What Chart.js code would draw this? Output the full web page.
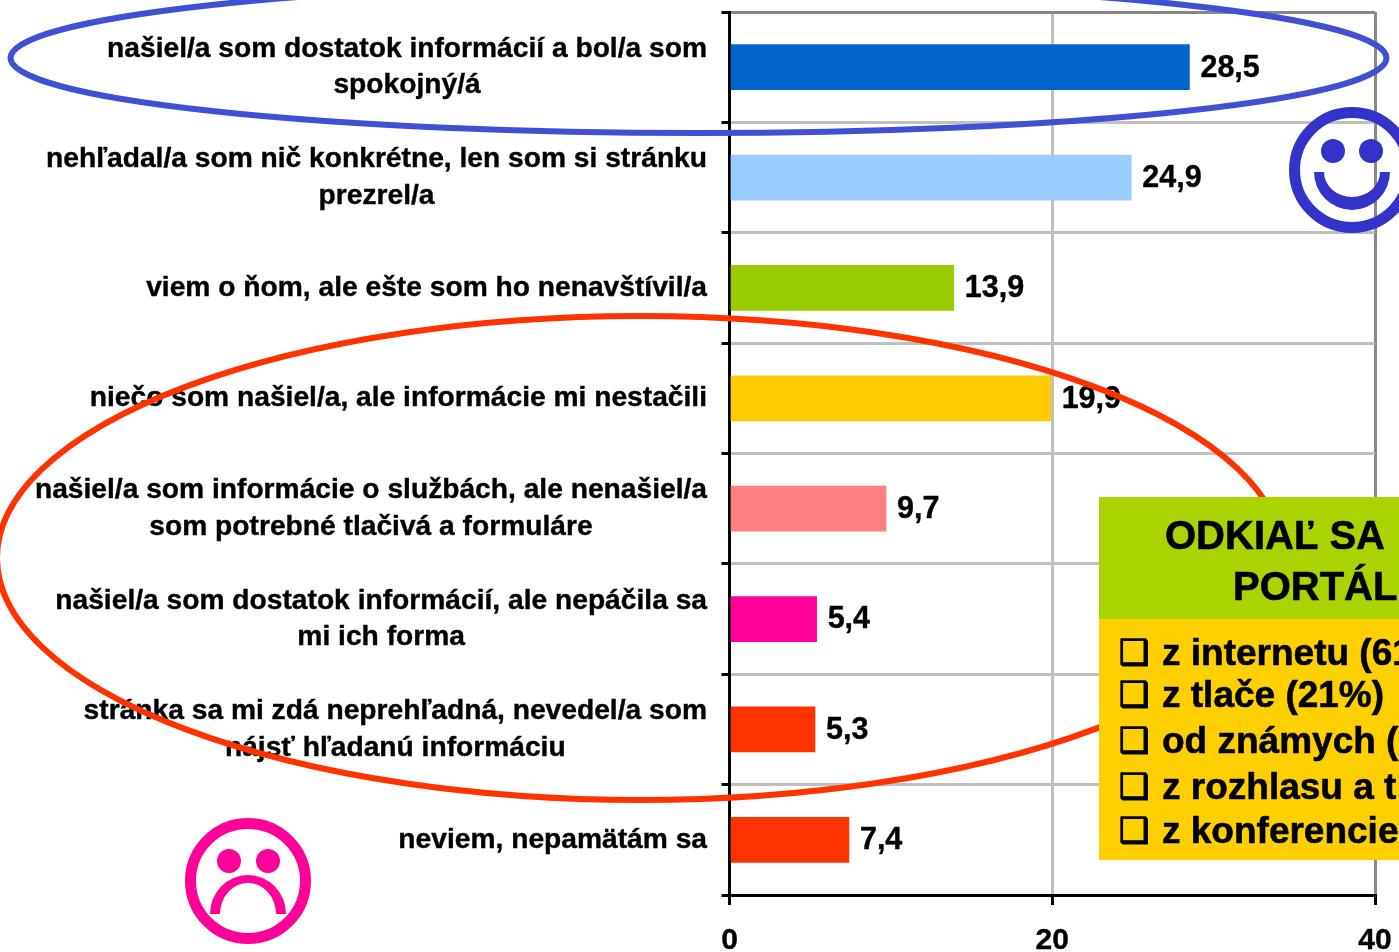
<!DOCTYPE html>
<html lang="sk">
<head>
<meta charset="utf-8">
<title>Portál</title>
<style>html,body{margin:0;padding:0;background:#fff;overflow:hidden}canvas{display:block}</style>
<script src="https://cdn.jsdelivr.net/npm/chart.js@4/dist/chart.umd.js"></script>
</head>
<body>
<canvas id="c" width="1399" height="952"></canvas>
<script>
const categories = [
  ["našiel/a som dostatok informácií a bol/a som", "spokojný/á"],
  ["nehľadal/a som nič konkrétne, len som si stránku", "prezrel/a"],
  "viem o ňom, ale ešte som ho nenavštívil/a",
  "niečo som našiel/a, ale informácie mi nestačili",
  ["našiel/a som informácie o službách, ale nenašiel/a", "som potrebné tlačivá a formuláre"],
  ["našiel/a som dostatok informácií, ale nepáčila sa", "mi ich forma"],
  ["stránka sa mi zdá neprehľadná, nevedel/a som", "nájsť hľadanú informáciu"],
  "neviem, nepamätám sa"
];
const values = [28.5, 24.9, 13.9, 19.9, 9.7, 5.4, 5.3, 7.4];
const barColors = ["#0066CC", "#99CCFF", "#99CC00", "#FFCC00", "#FF8080", "#FF0099", "#FF3300", "#FF3300"];
const boxTitle = ["ODKIAĽ SA", "PORTÁL"];
const boxItems = ["z internetu (61%)", "z tlače (21%)", "od známych (", "z rozhlasu a t", "z konferencie"];

const FONT = '"Liberation Sans", Arial, sans-serif';
Chart.defaults.font.family = FONT;
Chart.defaults.font.weight = 'bold';
Chart.defaults.color = '#000';

function heavyText(ctx, t, x, y, w) {
  ctx.lineWidth = w; ctx.lineJoin = 'round';
  ctx.strokeStyle = ctx.fillStyle;
  ctx.strokeText(t, x, y);
  ctx.fillText(t, x, y);
}

const valueLabels = {
  id: 'valueLabels',
  afterDatasetsDraw(chart) {
    const ctx = chart.ctx, meta = chart.getDatasetMeta(0);
    ctx.save();
    ctx.font = 'bold 30.5px ' + FONT;
    ctx.fillStyle = '#000';
    ctx.textBaseline = 'middle';
    ctx.textAlign = 'left';
    meta.data.forEach((bar, i) => {
      heavyText(ctx, values[i].toFixed(1).replace('.', ','), bar.x + 11, bar.y + 1, 0.4);
    });
    ctx.restore();
  }
};

const overlay = {
  id: 'overlay',
  afterDraw(chart) {
    const ctx = chart.ctx;
    ctx.save();
    // blue ellipse
    ctx.strokeStyle = '#4050D4'; ctx.lineWidth = 6;
    ctx.beginPath(); ctx.ellipse(698.5, 58, 688, 75, 0, 0, Math.PI * 2); ctx.stroke();
    // red ellipse
    ctx.strokeStyle = '#FF3300'; ctx.lineWidth = 6;
    ctx.beginPath(); ctx.ellipse(640, 558, 643, 242, 0, 0, Math.PI * 2); ctx.stroke();
    // happy face
    ctx.strokeStyle = ctx.fillStyle = '#3333CC'; ctx.lineWidth = 11;
    ctx.beginPath(); ctx.arc(1352, 170, 57.5, 0, Math.PI * 2); ctx.stroke();
    ctx.beginPath(); ctx.arc(1333, 151, 12, 0, Math.PI * 2); ctx.fill();
    ctx.beginPath(); ctx.arc(1371, 151, 12, 0, Math.PI * 2); ctx.fill();
    ctx.beginPath();
    ctx.ellipse(1352, 172, 38, 38, 0, 0, Math.PI);
    ctx.ellipse(1352, 172, 28, 25, 0, Math.PI, 0, true);
    ctx.closePath(); ctx.fill();
    // sad face
    ctx.strokeStyle = ctx.fillStyle = '#FF0099';
    ctx.beginPath(); ctx.arc(248, 881, 57.5, 0, Math.PI * 2); ctx.stroke();
    ctx.beginPath(); ctx.arc(229, 861, 12, 0, Math.PI * 2); ctx.fill();
    ctx.beginPath(); ctx.arc(268, 861, 12, 0, Math.PI * 2); ctx.fill();
    ctx.beginPath();
    ctx.ellipse(248, 914, 38, 39, 0, Math.PI, 0);
    ctx.ellipse(248, 914, 28, 31, 0, 0, Math.PI, true);
    ctx.closePath(); ctx.fill();
    // info box
    ctx.fillStyle = '#AAD400'; ctx.fillRect(1099, 497, 300, 122);
    ctx.fillStyle = '#FFD000'; ctx.fillRect(1099, 619, 300, 241);
    ctx.fillStyle = '#000'; ctx.textBaseline = 'alphabetic'; ctx.textAlign = 'left';
    ctx.font = 'bold 40px ' + FONT;
    heavyText(ctx, boxTitle[0], 1165, 549, 0.6);
    heavyText(ctx, boxTitle[1], 1233, 600, 0.6);
    const ys = [665, 707, 753, 799, 843];
    boxItems.forEach((t, i) => {
      ctx.font = '34px "DejaVu Sans"';
      heavyText(ctx, '❑', 1119, ys[i] - 1, 1.4);
      ctx.font = 'bold 37px ' + FONT;
      heavyText(ctx, t, 1162, ys[i], 0.6);
    });
    ctx.restore();
  }
};

new Chart(document.getElementById('c'), {
  type: 'bar',
  data: {
    labels: categories,
    datasets: [{ data: values, backgroundColor: barColors, borderWidth: 0, barThickness: 45 }]
  },
  plugins: [valueLabels, overlay],
  options: {
    indexAxis: 'y',
    responsive: false,
    animation: false,
    layout: { padding: { top: 12, right: 24, left: 0, bottom: 0 } },
    plugins: { legend: { display: false }, tooltip: { enabled: false }, title: { display: false } },
    scales: {
      x: {
        min: 0, max: 40,
        afterFit(s) { s.height = 57; s.paddingLeft = 0; s.paddingRight = 0; },
        ticks: { stepSize: 20, font: { size: 30, weight: 'bold' }, padding: 18, color: '#000', maxRotation: 0, textStrokeColor: '#000', textStrokeWidth: 0.4 },
        grid: {
          lineWidth: 3, tickLength: 10, tickColor: '#000',
          color: c => c.tick && c.tick.value === 40 ? '#888888' : '#C0C0C0'
        },
        border: { color: '#000', width: 3 }
      },
      y: {
        afterFit(s) { s.width = 729.5; s.paddingTop = 0; s.paddingBottom = 0; },
        afterUpdate(s) {
          if (s._centred) return;
          s._centred = true;
          const orig = s.getLabelItems;
          s.getLabelItems = function (area) {
            const items = orig.call(this, area);
            const ctx = this.ctx;
            items.forEach(it => {
              if (!Array.isArray(it.label)) return;
              ctx.save();
              ctx.font = it.font.string;
              const w = Math.max(...it.label.map(l => ctx.measureText(l).width));
              ctx.restore();
              if (it.options.textAlign !== 'center') {
                it.options.textAlign = 'center';
                it.options.translation = [it.options.translation[0] - w / 2, it.options.translation[1]];
              }
            });
            return items;
          };
        },
        ticks: { font: { size: 28.2, weight: 'bold', lineHeight: 1.3 }, padding: 14.5, color: '#000', autoSkip: false, textStrokeColor: '#000', textStrokeWidth: 0.4 },
        grid: {
          lineWidth: 3, tickLength: 8, tickColor: '#000',
          color: c => c.index === 0 ? '#888888' : '#C0C0C0'
        },
        border: { color: '#000', width: 3 }
      }
    }
  }
});
</script>
</body>
</html>
